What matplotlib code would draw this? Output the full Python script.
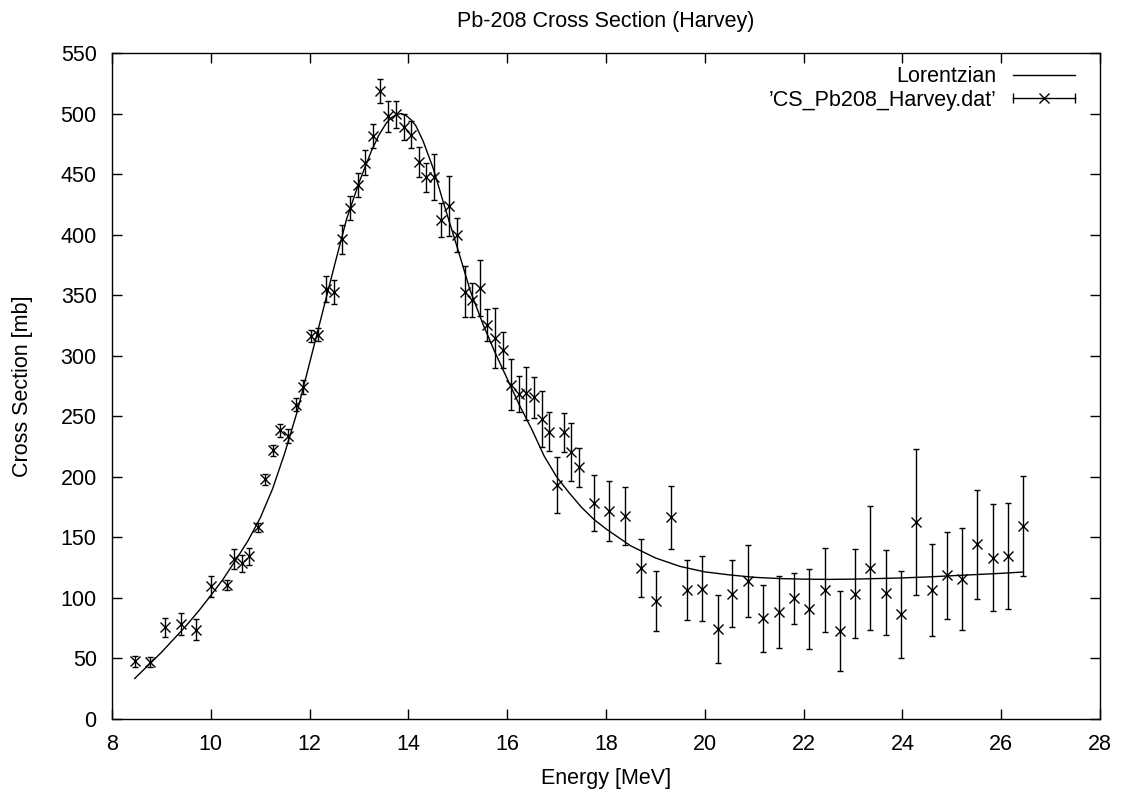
import matplotlib
matplotlib.use('Agg')
import matplotlib.pyplot as plt
from matplotlib.lines import Line2D
from matplotlib.legend_handler import HandlerLine2D

plt.rcParams['font.family'] = ['Liberation Sans', 'DejaVu Sans']
plt.rcParams['font.size'] = 15.5

energy = [8.46, 8.76, 9.07, 9.39, 9.70, 10.01, 10.32, 10.47, 10.63, 10.78,
          10.95, 11.10, 11.25, 11.41, 11.56, 11.72, 11.87, 12.03, 12.18, 12.34,
          12.50, 12.66, 12.82, 12.98, 13.13, 13.28, 13.43, 13.59, 13.75, 13.91,
          14.06, 14.21, 14.36, 14.51, 14.67, 14.82, 14.98, 15.14, 15.29, 15.44,
          15.60, 15.76, 15.91, 16.07, 16.23, 16.39, 16.54, 16.70, 16.85, 17.00,
          17.15, 17.30, 17.46, 17.76, 18.07, 18.38, 18.70, 19.01, 19.32, 19.63,
          19.94, 20.26, 20.56, 20.87, 21.18, 21.50, 21.80, 22.11, 22.43, 22.73,
          23.04, 23.35, 23.66, 23.97, 24.28, 24.60, 24.90, 25.21, 25.52, 25.83,
          26.14, 26.45]
xs = [47.6, 46.8, 75.7, 78.7, 73.7, 109.5, 110.9, 132.1, 128.8, 134.3,
      158.2, 198.1, 221.8, 238.3, 233.9, 259.5, 274.1, 316.0, 317.5, 355.0,
      352.4, 396.2, 421.7, 440.9, 459.5, 481.5, 518.7, 497.6, 499.4, 488.8,
      482.5, 460.0, 447.2, 448.0, 412.4, 423.5, 399.5, 352.8, 346.0, 355.7,
      325.2, 314.8, 304.6, 276.0, 268.4, 269.0, 265.6, 247.5, 237.3, 193.5,
      236.6, 220.2, 208.0, 178.6, 171.7, 167.6, 124.5, 97.5, 166.8, 106.6,
      107.7, 74.2, 103.6, 114.0, 83.0, 88.5, 99.7, 91.2, 106.6, 72.3,
      103.6, 124.5, 104.4, 86.5, 162.6, 106.6, 118.7, 115.4, 144.2, 133.2,
      134.6, 159.3]
err = [4.5, 4.0, 8.0, 9.0, 8.5, 9.0, 4.0, 8.5, 7.0, 7.0,
       3.5, 4.5, 4.5, 5.5, 6.0, 5.5, 5.5, 5.0, 5.0, 11.0,
       10.0, 12.0, 10.0, 10.0, 10.0, 10.0, 10.0, 12.5, 11.0, 11.0,
       11.0, 12.0, 12.0, 19.0, 14.0, 25.0, 14.0, 21.0, 14.0, 23.0,
       13.0, 25.0, 15.0, 21.0, 15.0, 22.0, 17.0, 23.0, 16.0, 23.0,
       16.0, 24.0, 16.0, 23.0, 25.0, 24.0, 24.0, 25.0, 26.0, 25.0,
       27.0, 28.0, 28.0, 30.0, 28.0, 30.0, 21.0, 33.0, 35.0, 33.0,
       37.0, 51.0, 35.0, 36.0, 60.0, 38.0, 36.0, 42.0, 45.0, 44.0,
       44.0, 41.0]

# Lorentzian fit curve, sampled from the plot
fit_e = [8.46, 8.75, 9.0, 9.25, 9.5, 9.75, 10.0, 10.25, 10.5, 10.75,
         11.0, 11.25, 11.5, 11.75, 12.0, 12.25, 12.5, 12.75, 13.0, 13.25,
         13.4, 13.55, 13.65, 13.75, 13.85, 13.95, 14.05, 14.15, 14.3, 14.5,
         14.75, 15.0, 15.25, 15.5, 15.75, 16.0, 16.25, 16.5, 16.75, 17.0,
         17.25, 17.5, 17.75, 18.0, 18.5, 19.0, 19.5, 20.0, 20.5, 21.0,
         21.5, 22.0, 22.5, 23.0, 23.5, 24.0, 24.5, 25.0, 25.5, 26.0, 26.45]
fit_xs = [33.5, 45, 55, 66, 77, 89, 102, 115.5, 131, 147,
          166, 190, 220, 254, 294, 334, 374, 413, 443, 469,
          482, 492, 496.5, 499, 500, 498.5, 495, 490, 477, 455,
          421, 388, 354, 327, 303, 281, 259, 239, 217, 200,
          187, 175, 165, 157, 143, 133, 126, 121.5, 119, 117,
          116, 115.5, 115.3, 115.5, 116, 116.5, 117.3, 118.3, 119.3, 120.3, 121.4]

fig, ax = plt.subplots(figsize=(11.22, 7.90), dpi=100)
fig.subplots_adjust(left=112/1122, right=1100/1122, top=1-53/790, bottom=1-719/790)

fit_line, = ax.plot(fit_e, fit_xs, color='black', lw=1.0)
ax.errorbar(energy, xs, yerr=err, fmt='x', color='black', ms=6.5, mew=1.0,
            elinewidth=1.0, capsize=2.5, capthick=1.0)

ax.set_xlim(8, 28)
ax.set_ylim(0, 550)
ax.set_xticks(range(8, 29, 2))
ax.set_yticks(range(0, 551, 50))
ax.tick_params(direction='in', length=7, width=1.0, top=True, right=True, pad=11)
ax.tick_params(axis='x', pad=11)
for s in ax.spines.values():
    s.set_linewidth(1.0)

ax.set_xlabel('Energy [MeV]', labelpad=9)
ax.set_ylabel('Cross Section [mb]', labelpad=20)
ax.set_title('Pb-208 Cross Section (Harvey)', fontsize=15.5, pad=19)

# gnuplot-like key: text on the left, sample on the right
caps_proxy = Line2D([], [], color='black', lw=1.0, marker='|', ms=7, mew=1.0)
x_proxy = Line2D([], [], ls='none', marker='x', color='black', ms=6.5, mew=1.0)
ax.legend([fit_line, (caps_proxy, x_proxy)],
          ['Lorentzian', '\u2019CS_Pb208_Harvey.dat\u2019'],
          handler_map={caps_proxy: HandlerLine2D(numpoints=2, marker_pad=0),
                       x_proxy: HandlerLine2D(numpoints=1)},
          loc='upper right', bbox_to_anchor=(0.9747, 0.980), borderaxespad=0,
          borderpad=0, frameon=False, handlelength=2.9, handletextpad=0.75,
          labelspacing=0.12, markerfirst=False, fontsize=15.5)

fig.savefig('out.png', dpi=100)
